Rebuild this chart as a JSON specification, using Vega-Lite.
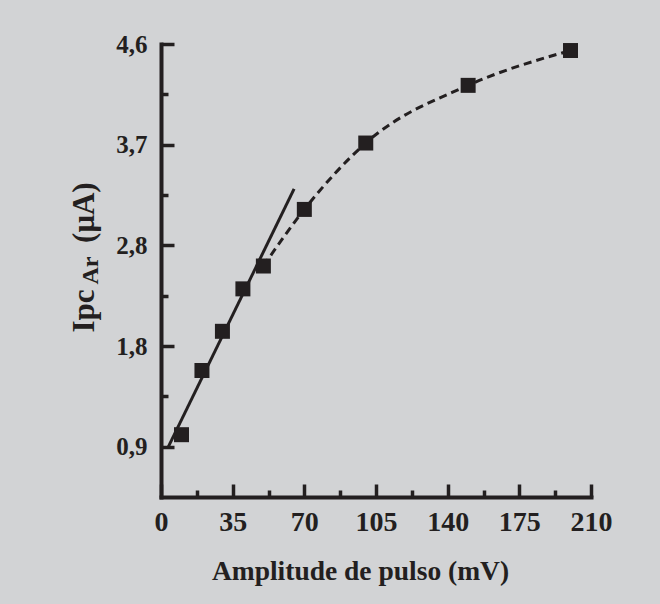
{
  "$schema": "https://vega.github.io/schema/vega-lite/v6.json",
  "width": 430,
  "height": 453,
  "autosize": {"type": "none"},
  "padding": {"left": 161, "top": 44, "right": 69, "bottom": 107},
  "background": "#d2d3d5",
  "config": {
    "view": {"stroke": null},
    "font": "Liberation Serif",
    "axis": {
      "domainColor": "#231f20",
      "domainWidth": 4,
      "domainCap": "square",
      "tickColor": "#231f20",
      "tickWidth": 3.5,
      "labelColor": "#231f20",
      "labelFont": "Liberation Serif",
      "labelFontWeight": "bold",
      "titleColor": "#231f20",
      "titleFont": "Liberation Serif",
      "titleFontWeight": "bold",
      "grid": false
    }
  },
  "datasets": {
    "points": [
      {"x": 10, "y": 1.01},
      {"x": 20, "y": 1.60},
      {"x": 30, "y": 1.96},
      {"x": 40, "y": 2.35},
      {"x": 50, "y": 2.56},
      {"x": 70, "y": 3.08},
      {"x": 100, "y": 3.69},
      {"x": 150, "y": 4.22},
      {"x": 200, "y": 4.54}
    ],
    "linear": [
      {"x": 3.5, "y": 0.896},
      {"x": 65, "y": 3.268}
    ],
    "curve": [
      {"x": 50, "y": 2.56},
      {"x": 70, "y": 3.08},
      {"x": 100, "y": 3.69},
      {"x": 150, "y": 4.22},
      {"x": 200, "y": 4.54}
    ]
  },
  "encoding": {
    "x": {
      "field": "x",
      "type": "quantitative",
      "scale": {"domain": [0, 210], "nice": false, "zero": false},
      "axis": {
        "values": [0, 17.5, 35, 52.5, 70, 87.5, 105, 122.5, 140, 157.5, 175, 192.5, 210],
        "tickSize": {"condition": {"test": "datum.value % 35 === 0", "value": -13}, "value": -7},
        "labelExpr": "datum.value % 35 === 0 ? datum.label : ''",
        "labelFontSize": 28,
        "labelPadding": 24,
        "labelFlush": false,
        "labelOverlap": false,
        "title": "Amplitude de pulso (mV)",
        "titleFontSize": 27.5,
        "titleX": 199,
        "titleY": 82,
        "titleAlign": "center",
        "titleBaseline": "alphabetic"
      }
    }
  },
  "resolve": {"axis": {"y": "independent"}},
  "layer": [
    {
      "data": {"name": "linear"},
      "mark": {"type": "line", "color": "#231f20", "strokeWidth": 3},
      "encoding": {
        "y": {
          "field": "y",
          "type": "quantitative",
          "scale": {"domain": [0.4375, 4.6], "nice": false, "zero": false},
          "axis": {
            "orient": "left",
            "domain": false,
            "ticks": false,
            "labels": false,
            "title": "Ar",
            "titleFontSize": 24,
            "titleAngle": 270,
            "titleX": -64,
            "titleY": 240,
            "titleAlign": "left",
            "titleBaseline": "alphabetic"
          }
        }
      }
    },
    {
      "data": {"name": "curve"},
      "mark": {"type": "line", "color": "#231f20", "strokeWidth": 3, "strokeDash": [8, 5], "interpolate": "monotone"},
      "encoding": {
        "y": {"field": "y", "type": "quantitative", "axis": null}
      }
    },
    {
      "data": {"name": "points"},
      "mark": {"type": "square", "color": "#231f20", "filled": true, "opacity": 1, "size": 225},
      "encoding": {
        "y": {
          "field": "y",
          "type": "quantitative",
          "axis": {
            "orient": "left",
            "values": [0.9, 1.3625, 1.825, 2.2875, 2.75, 3.2125, 3.675, 4.1375, 4.6],
            "tickSize": {"condition": {"test": "abs((datum.value - 0.9) / 0.925 - round((datum.value - 0.9) / 0.925)) < 0.01", "value": -13}, "value": -7},
            "labelExpr": "abs((datum.value - 0.9) / 0.925 - round((datum.value - 0.9) / 0.925)) < 0.01 ? replace(format(datum.value, '.1f'), '.', ',') : ''",
            "labelFontSize": 25,
            "labelPadding": 27,
            "labelFlush": false,
            "labelOverlap": false,
            "title": "Ipc\u00a0\u00a0\u00a0\u00a0\u00a0\u00a0(μA)",
            "titleFontSize": 31,
            "titleAngle": 270,
            "titleX": -68,
            "titleY": 288,
            "titleAlign": "left",
            "titleBaseline": "alphabetic"
          }
        }
      }
    }
  ]
}
